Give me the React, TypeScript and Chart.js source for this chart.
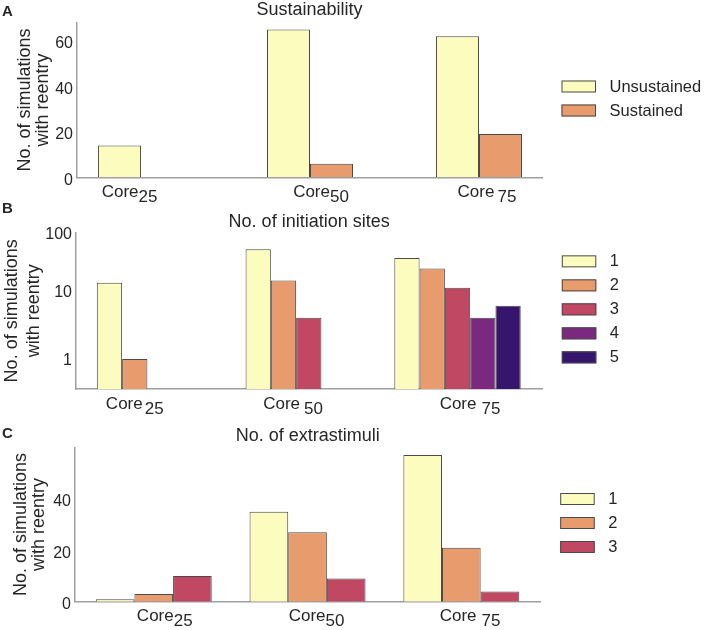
import React, { useEffect, useRef } from "react";
import { Chart, registerables } from "chart.js";

Chart.register(...registerables);

// ---------------- data ----------------
const CORE_PREFIX = "Core";
const CORE_SIZES = ["25", "50", "75"];
const CATEGORY_INDEX = [0, 1, 2];

// Panel A: Sustainability
const A_SERIES = ["Unsustained", "Sustained"];
const A_UNSUSTAINED = [14, 65, 62];
const A_SUSTAINED = [0, 6, 19];
const A_TICKS = [0, 20, 40, 60];

// Panel B: No. of initiation sites (log scale)
const B_SERIES = ["1", "2", "3", "4", "5"];
const B_SITES_1 = [13, 40, 30];
const B_SITES_2 = [1, 14, 21];
const B_SITES_3 = [null, 4, 11];
const B_SITES_4 = [null, null, 4];
const B_SITES_5 = [null, null, 6];
const B_TICK_LABELS = ["1", "10", "100"];

// Panel C: No. of extrastimuli
const C_SERIES = ["1", "2", "3"];
const C_EXTRA_1 = [1, 35, 57];
const C_EXTRA_2 = [3, 27, 21];
const C_EXTRA_3 = [10, 9, 4];
const C_TICKS = [0, 20, 40];

// ---------------- style ----------------
const W = 707;
const PALETTE = ["#FBFCBE", "#E89B6C", "#C14862", "#7A2880", "#35166C"];
const EDGE = "#4a4a4a";
const AXIS = "#a0a0a0";
const TEXT = "#262626";
const FONT = "'Liberation Sans', Arial, Helvetica, sans-serif";

type Panel = {
  top: number;
  height: number;
  letter: string;
  letterY: number;
  title: string;
  titleY: number;
  series: string[];
  values: (number | null)[][];
  log: boolean;
  yMin: number;
  yMax: number;
  tickValues: number[];
  tickLabels?: string[];
  chartTop: number;
  chartBottom: number;
  chartLeft: number;
  chartRight: number;
  xMin: number;
  xMax: number;
  catPct: number;
  labelShift: number[];
  labelGap: number[];
  yTitleX: [number, number];
  labelOffset: number;
};

const PANELS: Panel[] = [
  {
    top: 0,
    height: 203,
    letter: "A",
    letterY: 11.7,
    title: "Sustainability",
    titleY: 10.5,
    series: A_SERIES,
    values: [A_UNSUSTAINED, A_SUSTAINED],
    log: false,
    yMin: 0,
    yMax: 68,
    tickValues: A_TICKS,
    chartTop: 22.7,
    chartBottom: 177.3,
    chartLeft: 77,
    chartRight: 542,
    xMin: -0.379,
    xMax: 2.373,
    catPct: 0.509,
    labelShift: [-11.5, 11, 8],
    labelGap: [0, 0, 3],
    yTitleX: [25, 43],
    labelOffset: 3,
  },
  {
    top: 203,
    height: 213,
    letter: "B",
    letterY: 6,
    title: "No. of initiation sites",
    titleY: 19,
    series: B_SERIES,
    values: [B_SITES_1, B_SITES_2, B_SITES_3, B_SITES_4, B_SITES_5],
    log: true,
    yMin: 0.365,
    yMax: 70,
    tickValues: [1, 10, 70],
    tickLabels: B_TICK_LABELS,
    chartTop: 29.7,
    chartBottom: 186,
    chartLeft: 76,
    chartRight: 542.3,
    xMin: -0.565,
    xMax: 2.57,
    catPct: 0.85,
    labelShift: [-25.3, -15.7, 12.5],
    labelGap: [2, 4, 5],
    yTitleX: [12, 34],
    labelOffset: 2,
  },
  {
    top: 416,
    height: 214,
    letter: "C",
    letterY: 18,
    title: "No. of extrastimuli",
    titleY: 20,
    series: C_SERIES,
    values: [C_EXTRA_1, C_EXTRA_2, C_EXTRA_3],
    log: false,
    yMin: 0,
    yMax: 60,
    tickValues: C_TICKS,
    chartTop: 31.3,
    chartBottom: 185.7,
    chartLeft: 75,
    chartRight: 540.7,
    xMin: -0.512,
    xMax: 2.516,
    catPct: 0.754,
    labelShift: [11, 9, 8.7],
    labelGap: [0, 0, 5],
    yTitleX: [21, 39],
    labelOffset: 3,
  },
];

function decorPlugin(p: Panel) {
  return {
    id: "decor" + p.letter,
    afterDraw(chart: any) {
      const ctx: CanvasRenderingContext2D = chart.ctx;
      const area = chart.chartArea;
      const xs = chart.scales.x;
      ctx.save();
      ctx.fillStyle = TEXT;

      // panel letter
      ctx.font = `bold 15px ${FONT}`;
      ctx.textAlign = "left";
      ctx.textBaseline = "middle";
      ctx.fillText(p.letter, 2, p.letterY);

      // title
      ctx.font = `18px ${FONT}`;
      ctx.textAlign = "center";
      ctx.fillText(p.title, (area.left + area.right) / 2, p.titleY);

      // y title
      const cy = (area.top + area.bottom) / 2;
      ctx.font = `18px ${FONT}`;
      const lines = ["No. of simulations", "with reentry"];
      lines.forEach((ln, k) => {
        ctx.save();
        ctx.translate(p.yTitleX[k], cy);
        ctx.rotate(-Math.PI / 2);
        ctx.textAlign = "center";
        ctx.textBaseline = "middle";
        ctx.fillText(ln, 0, 0);
        ctx.restore();
      });

      // x labels with subscripts
      ctx.font = `17px ${FONT}`;
      ctx.textAlign = "left";
      ctx.textBaseline = "alphabetic";
      CORE_SIZES.forEach((sz, i) => {
        const cx = xs.getPixelForValue(CATEGORY_INDEX[i]) + p.labelShift[i];
        const w1 = ctx.measureText(CORE_PREFIX).width;
        const w2 = ctx.measureText(sz).width;
        const gap = p.labelGap[i];
        const start = cx - (w1 + gap + w2) / 2;
        const base = area.bottom + 19.5;
        ctx.fillText(CORE_PREFIX, start, base);
        ctx.fillText(sz, start + w1 + gap, base + 5);
      });

      // legend
      const n = p.series.length;
      const step = 24;
      const boxW = 34.5;
      const boxH = 12;
      const lx = area.right + 19.5;
      const firstCenter = cy - 1.5 - ((n - 1) * step) / 2;
      ctx.font = `16.5px ${FONT}`;
      ctx.textBaseline = "middle";
      p.series.forEach((s, k) => {
        const yc = firstCenter + k * step;
        ctx.fillStyle = PALETTE[k];
        ctx.fillRect(lx, yc - boxH / 2, boxW, boxH);
        ctx.strokeStyle = EDGE;
        ctx.lineWidth = 1;
        ctx.strokeRect(lx + 0.5, yc - boxH / 2 + 0.5, boxW - 1, boxH - 1);
        ctx.fillStyle = TEXT;
        ctx.fillText(s, lx + 48, yc + 0.5);
      });
      ctx.restore();
    },
  };
}

function makeConfig(p: Panel): any {
  return {
    type: "bar",
    data: {
      datasets: p.series.map((s, k) => ({
        label: s,
        data: p.values[k].map((v, i) => ({ x: CATEGORY_INDEX[i], y: v })),
        backgroundColor: PALETTE[k],
        borderColor: EDGE,
        borderWidth: 1,
        categoryPercentage: p.catPct,
        barPercentage: 1,
      })),
    },
    options: {
      responsive: false,
      maintainAspectRatio: false,
      animation: false,
      events: [],
      layout: {
        padding: { top: p.chartTop, right: W - p.chartRight, bottom: 0, left: 0 },
      },
      plugins: {
        legend: { display: false },
        tooltip: { enabled: false },
        title: { display: false },
      },
      scales: {
        x: {
          type: "linear",
          offset: false,
          bounds: "data",
          min: p.xMin,
          max: p.xMax,
          grid: { display: false, drawTicks: false, offset: false },
          ticks: { display: false },
          border: { display: true, color: AXIS, width: 1.5 },
          afterBuildTicks: (s: any) => {
            s.ticks = CATEGORY_INDEX.map((v) => ({ value: v }));
          },
          afterFit: (s: any) => {
            s.height = p.height - p.chartBottom;
          },
        },
        y: {
          type: p.log ? "logarithmic" : "linear",
          min: p.yMin,
          max: p.yMax,
          grid: { display: false, drawTicks: false },
          border: { display: true, color: AXIS, width: 1.5 },
          ticks: {
            autoSkip: false,
            padding: 4,
            labelOffset: p.labelOffset,
            color: TEXT,
            font: { family: FONT, size: 16 },
            callback: (v: any, idx: number) =>
              p.tickLabels ? p.tickLabels[idx] : String(v),
          },
          afterBuildTicks: (s: any) => {
            s.ticks = p.tickValues.map((v) => ({ value: v }));
          },
          afterFit: (s: any) => {
            s.width = p.chartLeft;
          },
        },
      },
    },
    plugins: [decorPlugin(p)],
  };
}

function PanelChart({ p }: { p: Panel }) {
  const ref = useRef<HTMLCanvasElement | null>(null);
  useEffect(() => {
    if (!ref.current) return;
    const chart = new Chart(ref.current, makeConfig(p));
    return () => chart.destroy();
  }, [p]);
  return (
    <canvas
      ref={ref}
      width={W}
      height={p.height}
      style={{ position: "absolute", left: 0, top: p.top, width: W, height: p.height }}
    />
  );
}

export default function App() {
  return (
    <div
      style={{
        position: "absolute",
        left: 0,
        top: 0,
        width: W,
        height: 630,
        background: "#ffffff",
      }}
    >
      {PANELS.map((p) => (
        <PanelChart key={p.letter} p={p} />
      ))}
    </div>
  );
}
